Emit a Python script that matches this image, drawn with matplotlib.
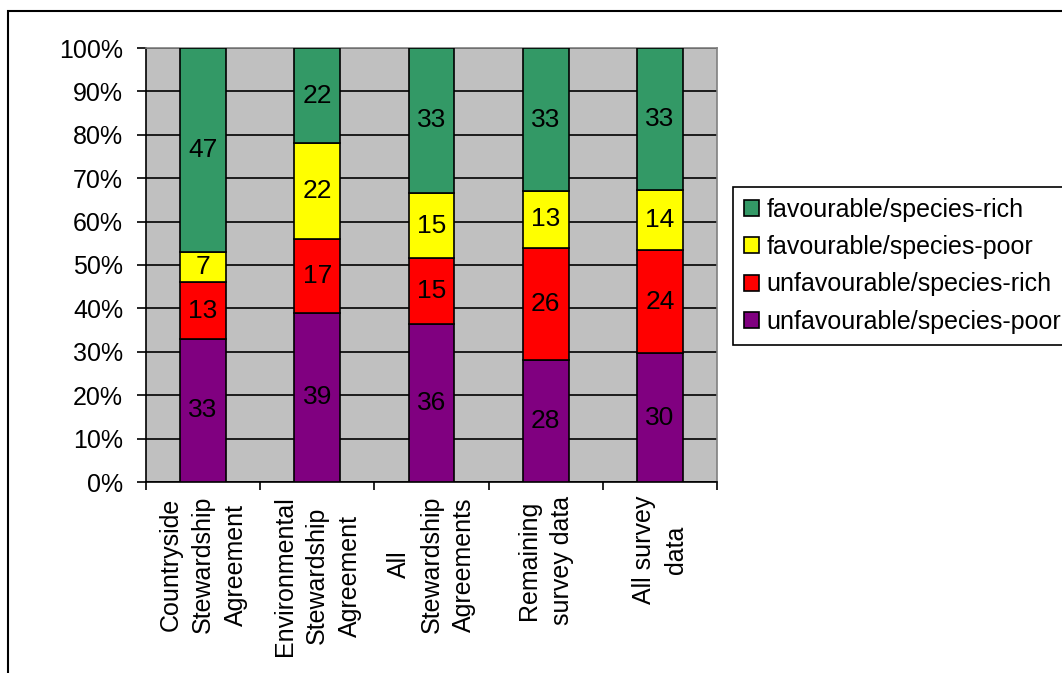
import matplotlib
matplotlib.use("Agg")
import matplotlib.pyplot as plt
import numpy as np
from matplotlib.patches import Rectangle

plt.rcParams['font.family'] = ['Liberation Sans', 'DejaVu Sans']

categories = [
    "Countryside\nStewardship\nAgreement",
    "Environmental\nStewardship\nAgreement",
    "All\nStewardship\nAgreements",
    "Remaining\nsurvey data",
    "All survey\ndata",
]
series_names = [
    "unfavourable/species-poor",
    "unfavourable/species-rich",
    "favourable/species-poor",
    "favourable/species-rich",
]
unfav_poor = [33, 39, 36, 28, 30]
unfav_rich = [13, 17, 15, 26, 24]
fav_poor = [7, 22, 15, 13, 14]
fav_rich = [47, 22, 33, 33, 33]
colors = ["#800080", "#FF0000", "#FFFF00", "#339966"]
y_ticks = [0, 10, 20, 30, 40, 50, 60, 70, 80, 90, 100]

values = np.array([unfav_poor, unfav_rich, fav_poor, fav_rich], dtype=float)
shares = values / values.sum(axis=0) * 100.0

FS = 18
W, H = 1062, 673
fig = plt.figure(figsize=(W / 100, H / 100), dpi=100)
fig.patches.append(Rectangle((8 / W, -0.1), 1.2, 1 - 11 / H + 0.1,
                             transform=fig.transFigure, fill=False,
                             edgecolor="black", linewidth=1.5))

ax = fig.add_axes([146 / W, 1 - 482 / H, (717 - 146) / W, (482 - 48) / H])
ax.set_facecolor("#C0C0C0")

x = np.arange(len(categories))
bottom = np.zeros(len(categories))
handles = []
for i in range(4):
    bars = ax.bar(x, shares[i], width=0.4, bottom=bottom, color=colors[i],
                  edgecolor="black", linewidth=1.2, zorder=3,
                  label=series_names[i])
    handles.append(bars)
    for xi, b, h, v in zip(x, bottom, shares[i], values[i]):
        ax.text(xi, b + h / 2, f"{int(v)}", ha="center", va="center",
                fontsize=19, color="black", zorder=4)
    bottom += shares[i]

ax.set_xlim(-0.5, len(categories) - 0.5)
ax.set_ylim(0, 100)
ax.set_yticks(y_ticks)
ax.set_yticklabels([f"{t}%" for t in y_ticks])
ax.yaxis.grid(True, color="black", linewidth=1.2, zorder=1)
ax.set_axisbelow(True)

ax.set_xticks(np.arange(len(categories) + 1) - 0.5)
ax.set_xticklabels([])
ax.set_xticks(x, minor=True)
ax.set_xticklabels(categories, minor=True, rotation=90, ha="center",
                   va="top", multialignment="center", linespacing=1.45)
ax.tick_params(axis="x", which="minor", length=0, pad=10, labelsize=FS)
ax.tick_params(axis="x", which="major", length=5.5, width=1.2, direction="out")
ax.tick_params(axis="y", length=6.5, width=1.2, pad=10, labelsize=FS)

for side in ("top", "right"):
    ax.spines[side].set_color("#808080")
    ax.spines[side].set_linewidth(1.2)
for side in ("left", "bottom"):
    ax.spines[side].set_color("black")
    ax.spines[side].set_linewidth(1.2)

leg = fig.legend(handles[::-1], series_names[::-1], loc="upper left",
                 bbox_to_anchor=(733 / W, 1 - 187 / H),
                 bbox_transform=fig.transFigure, fontsize=FS,
                 frameon=True, fancybox=False, edgecolor="black",
                 framealpha=1, handlelength=0.6, handleheight=0.6,
                 handletextpad=0.32, labelspacing=0.54, borderpad=0.42,
                 borderaxespad=0)
leg.get_frame().set_linewidth(1.2)

fig.savefig("out.png", dpi=100)
